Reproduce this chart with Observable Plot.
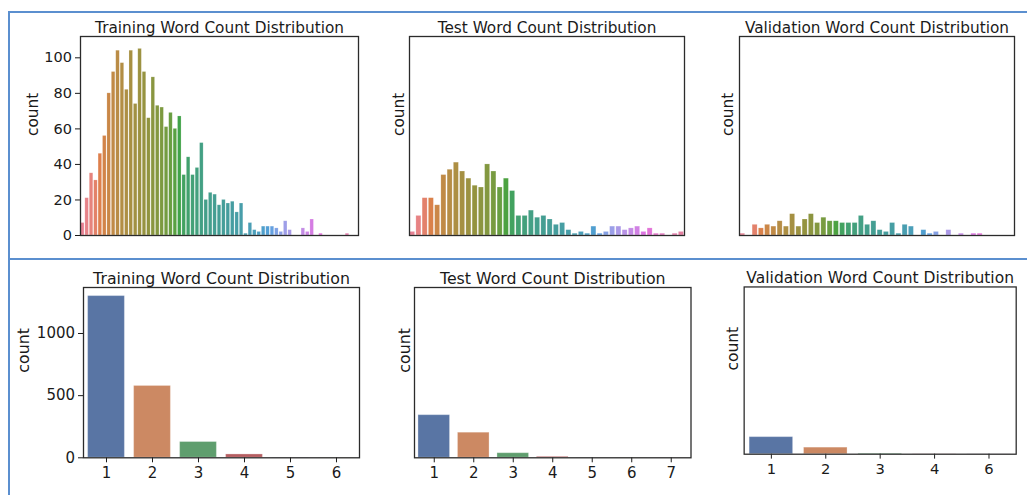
<!DOCTYPE html>
<html>
<head>
<meta charset="utf-8">
<script src="https://cdn.jsdelivr.net/npm/d3@7"></script>
<script src="https://cdn.jsdelivr.net/npm/@observablehq/plot@0.6"></script>
<style>
  html, body { margin: 0; padding: 0; background: #fff; }
  #page { position: relative; width: 1027px; height: 495px; overflow: hidden; background: #fff; }
  .panel { position: absolute; }
  .rule { position: absolute; background: #5b8fcf; }
</style>
</head>
<body>
<div id="page"></div>
<script>
// Number of samples per word-count bin (one entry per bin, in bin order)
const trainWordCounts = [7, 21, 35, 31, 46, 56, 80, 92, 104, 97, 82, 104, 74, 105, 92, 66, 89, 73, 72, 61,
  69, 60, 67, 34, 44, 34, 38, 52, 20, 24, 23, 17, 20, 18, 19, 13, 18, 1, 7, 3,
  2, 5, 5, 5, 4, 2, 8, 3, 0, 0, 4, 2, 9, 0, 1, 0, 0, 0, 0, 0, 1, 0, 0];
const testWordCounts = [2, 11, 21, 21, 17, 34, 37, 41, 36, 32, 28, 27, 40, 36, 27, 32, 25, 11, 11, 14,
  10, 11, 9, 6, 7, 3, 1, 2, 1, 5, 1, 2, 5, 5, 3, 4, 5, 2, 4, 1, 1, 0, 1, 2];
const validationWordCounts = [1, 0, 6, 4, 6, 5, 8, 5, 12, 5, 9, 12, 7, 10, 8, 8, 7, 7, 7, 11,
  6, 8, 3, 2, 7, 1, 6, 5, 0, 3, 1, 2, 0, 3, 0, 1, 0, 1, 1, 0, 0, 0, 0, 0];

// Second row: counts per bin label
const trainSentenceBins = ["1", "2", "3", "4", "5", "6"];
const trainSentenceCounts = [1301, 578, 127, 27, 2, 1];
const testSentenceBins = ["1", "2", "3", "4", "5", "6", "7"];
const testSentenceCounts = [343, 202, 37, 8, 1, 1, 1];
const validationSentenceBins = ["1", "2", "3", "4", "6"];
const validationSentenceCounts = [140, 54, 5, 1, 1];

const wordTicks = [0, 20, 40, 60, 80, 100];
const sentenceTicks = [0, 500, 1000];
const titles = ["Training Word Count Distribution", "Test Word Count Distribution", "Validation Word Count Distribution"];

// ---- colours: seaborn-style husl palette and "deep" palette, desaturated for patches ----
const M = [[3.2406, -1.5372, -0.4986], [-0.9689, 1.8758, 0.0415], [0.0557, -0.2040, 1.0570]];
function maxChroma(L, H) {
  const hr = H * Math.PI / 180, sinH = Math.sin(hr), cosH = Math.cos(hr);
  const sub1 = Math.pow(L + 16, 3) / 1560896;
  const sub2 = sub1 > 0.008856 ? sub1 : L / 903.3;
  let result = Infinity;
  for (const [m1, m2, m3] of M) {
    const t0 = (0.99915 * m1 + 1.05122 * m2 + 1.14460 * m3) * sub2;
    const rbottom = 0.86330 * m3 - 0.17266 * m2;
    const lbottom = 0.12949 * m3 - 0.38848 * m1;
    const b0 = (rbottom * sinH + lbottom * cosH) * sub2;
    for (const t of [0, 1]) {
      const C = L * (t0 - 1.05122 * t) / (b0 + 0.17266 * sinH * t);
      if (C > 0 && C < result) result = C;
    }
  }
  return result;
}
function huslToRgb(H, S, L) {
  const C = maxChroma(L, H) / 100 * S;
  const hr = H * Math.PI / 180;
  const U = Math.cos(hr) * C, V = Math.sin(hr) * C;
  const t = (L + 16) / 116;
  const Y = t ** 3 > 0.008856 ? t ** 3 : (116 * t - 16) / 903.3;
  const varU = U / (13 * L) + 0.19784, varV = V / (13 * L) + 0.46834;
  const X = -(9 * Y * varU) / ((varU - 4) * varV - varU * varV);
  const Z = (9 * Y - 15 * varV * Y - varV * X) / (3 * varV);
  const gamma = c => c <= 0.0031308 ? 12.92 * c : 1.055 * Math.pow(c, 1 / 2.4) - 0.055;
  return M.map(([a, b, c]) => Math.min(1, Math.max(0, gamma(a * X + b * Y + c * Z))));
}
function desaturate(color, p = 0.75) {
  const h = d3.hsl(color);
  h.s *= p;
  return h.formatHex();
}
function huslPalette(n) {
  return d3.range(n).map(i => {
    const h = ((i / n + 0.01) % 1) * 359;
    const [r, g, b] = huslToRgb(h, 0.9 * 99, 0.65 * 99);
    return desaturate(d3.rgb(r * 255, g * 255, b * 255));
  });
}
const deep = ["#4C72B0", "#DD8452", "#55A868", "#C44E52", "#8172B3", "#937860", "#DA8BC3"].map(c => desaturate(c));

// ---- layout ----
const page = document.getElementById("page");
function rule(left, y, width, height) {
  const d = document.createElement("div");
  d.className = "rule";
  Object.assign(d.style, {left: left + "px", top: y + "px", width: width + "px", height: height + "px"});
  page.append(d);
}

function drawPanel({box, title, titleGap, labelGap, bins, counts, colors, yMax, yTicks, showX, barStroke, titleSize, tickSize}) {
  const [fx0, fy0, fx1, fy1] = box;
  const m = {top: 30, right: 12, bottom: showX ? 34 : 6, left: 75};
  const data = bins.map((b, i) => ({bin: b, count: counts[i], color: colors[i]}));
  const svg = Plot.plot({
    width: fx1 - fx0 + m.left + m.right,
    height: fy1 - fy0 + m.top + m.bottom,
    marginTop: m.top, marginRight: m.right, marginBottom: m.bottom, marginLeft: m.left,
    x: {type: "band", domain: bins, paddingInner: 0.2, paddingOuter: 0.1, round: false, axis: null},
    y: {domain: [0, yMax], axis: null},
    color: {type: "identity"},
    style: {fontFamily: "DejaVu Sans, sans-serif", fontSize: tickSize + "px", color: "#1a1a1a", background: "transparent", overflow: "visible"},
    marks: [
      Plot.barY(data, {x: "bin", y: "count", fill: "color", stroke: "white", strokeOpacity: 0.3, strokeWidth: barStroke}),
      yTicks ? Plot.axisY({ticks: yTicks, tickFormat: "d", tickSize: 5, tickPadding: 3.5, fontSize: tickSize, label: null}) : null,
      showX ? Plot.axisX({tickSize: 5, tickPadding: 4.5, fontSize: tickSize, label: null}) : null,
      Plot.frame({stroke: "#2b2b2b", strokeWidth: 1.3}),
      Plot.text([title], {frameAnchor: "top", lineAnchor: "bottom", dy: -titleGap, fontSize: titleSize}),
      Plot.text(["count"], {frameAnchor: "left", rotate: -90, lineAnchor: "middle", dx: -labelGap, fontSize: titleSize})
    ]
  });
  const div = document.createElement("div");
  div.className = "panel";
  div.style.left = (fx0 - m.left) + "px";
  div.style.top = (fy0 - m.top) + "px";
  div.append(svg);
  page.append(div);
}

const idx = arr => arr.map((_, i) => i);
const wordMax = 112;
const sentenceMax = 1370;
const upperRow = {titleSize: 15.3, tickSize: 14.5, showX: false, barStroke: 0.6, yMax: wordMax, titleGap: 4};
const lowerRow = {titleSize: 15.8, tickSize: 15, showX: true, barStroke: 1, yMax: sentenceMax, titleGap: 3.7};

drawPanel({...upperRow, box: [80, 36, 358, 235], title: titles[0], labelGap: 47,
  bins: idx(trainWordCounts), counts: trainWordCounts, colors: huslPalette(trainWordCounts.length), yTicks: wordTicks});
drawPanel({...upperRow, box: [409, 36, 684, 235], title: titles[1], labelGap: 10,
  bins: idx(testWordCounts), counts: testWordCounts, colors: huslPalette(testWordCounts.length), yTicks: null});
drawPanel({...upperRow, box: [739, 36, 1014, 235], title: titles[2], labelGap: 11,
  bins: idx(validationWordCounts), counts: validationWordCounts, colors: huslPalette(validationWordCounts.length), yTicks: null});

drawPanel({...lowerRow, box: [83, 287, 359, 457.3], title: titles[0], labelGap: 60,
  bins: trainSentenceBins, counts: trainSentenceCounts, colors: deep, yTicks: sentenceTicks});
drawPanel({...lowerRow, box: [413.5, 287, 690, 457.3], title: titles[1], labelGap: 10,
  bins: testSentenceBins, counts: testSentenceCounts, colors: deep, yTicks: null});
drawPanel({...lowerRow, box: [744.5, 287, 1021.5, 457.3], title: titles[2], labelGap: 11,
  bins: validationSentenceBins, counts: validationSentenceCounts, colors: deep, yTicks: null});

// panel borders
rule(7.5, 10.5, 1020, 2);
rule(7.5, 10.5, 2, 485);
rule(7.5, 257.5, 1020, 2);
</script>
</body>
</html>
